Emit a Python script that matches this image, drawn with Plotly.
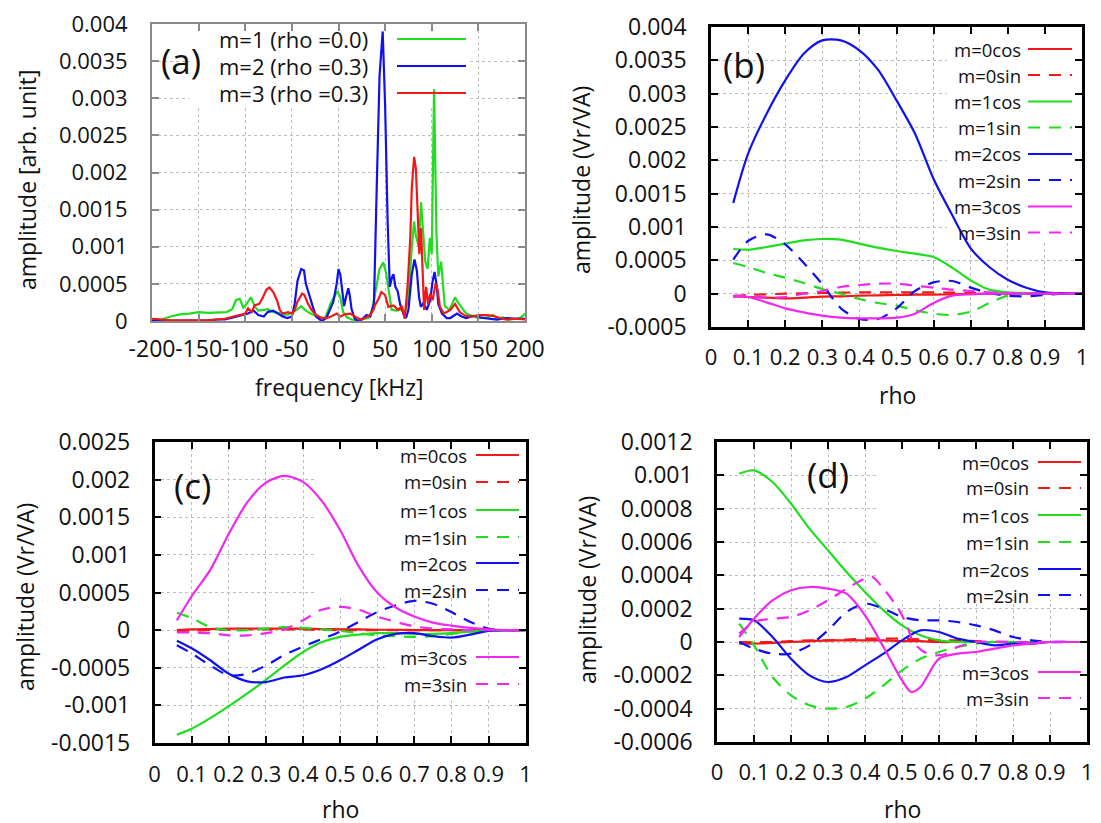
import plotly.graph_objects as go

# ---------------- data ----------------
# (a) frequency spectra
f_m1 = [-200, -190, -180, -170, -160, -150, -140, -130, -120, -114, -110, -106, -102, -98, -94, -90, -86,
        -80, -76, -70, -64, -60, -54, -48, -44, -40, -36, -30, -26, -20, -14, -8, -4, -1, 2, 5, 9, 14,
        20, 26, 32, 36, 40, 44, 48, 51, 54, 57, 62, 67, 71, 75, 78, 81, 83, 86, 88.5, 91, 93, 95.5, 98,
        100, 102.5, 105, 107, 110, 112, 114, 119, 125, 128, 132, 137, 145, 150, 160, 166, 170, 176, 182,
        190, 196, 200]
a_m1 = [0.00002, 0.00002, 0.00006, 0.00009, 0.0001, 0.00012, 0.00011, 0.00011, 0.00012, 0.00016, 0.00028,
        0.0003, 0.00018, 0.00024, 0.00032, 0.0002, 0.00014, 0.00015, 0.00016, 0.00012, 0.00011, 0.00008,
        0.00009, 0.00012, 0.00016, 0.0002, 0.00015, 0.0001, 0.00008, 0.00004, 0.00005, 0.00025, 0.00034,
        0.0004, 0.00032, 0.00012, 0.00005, 0.00002, 0.00001, 0.00002, 0.00004, 0.00015, 0.0004, 0.0007,
        0.00079, 0.00065, 0.0004, 0.00015, 0.00014, 0.00016, 0.0001, 0.0003, 0.0009, 0.00134, 0.00115,
        0.001, 0.0016, 0.0012, 0.0008, 0.0007, 0.00112, 0.0009, 0.00312, 0.0012, 0.0006, 0.0008, 0.00045,
        0.0002, 0.00015, 0.00032, 0.00025, 0.00018, 0.0001, 0.00006, 0.00004, 0.00005, 0.00008, 0.00003,
        0.00005, 0.00002, 0.00003, 0.00005, 0.0001]

f_m2 = [-200, -180, -160, -140, -130, -122, -115, -108, -102, -97, -91, -86, -80, -76, -70, -65, -60, -55,
        -50, -47, -44, -40, -37, -35, -31, -27, -24, -18, -13, -9, -5.5, -2, 0, 2, 4, 6, 8, 10.5, 12, 14,
        17, 20, 25, 30, 34, 38, 41, 44, 47.4, 50, 52.7, 55, 57.4, 59, 61, 63.5, 66, 69.5, 72.4, 75, 78.6,
        81.5, 84, 86.4, 88.3, 91, 94.7, 98.3, 101, 103, 105.5, 107, 111, 116, 120, 127, 132, 137, 145,
        155, 170, 180, 190, 200]
a_m2 = [0.0, 0.0, 0.0, 0.00001, 0.00002, 0.00002, 0.00004, 0.00006, 0.00008, 0.0001, 0.00014, 0.00008,
        0.00006, 0.00012, 0.00014, 0.0001, 0.00006, 0.00004, 0.00006, 0.00023, 0.00054, 0.0007, 0.00068,
        0.0005, 0.00032, 0.00017, 0.00006, 0.0, 0.00004, 0.00016, 0.00026, 0.0005, 0.0007, 0.00062, 0.0004,
        0.0002, 0.00032, 0.00044, 0.00035, 0.00016, 0.00004, 0.0, 0.00002, 0.00008, 0.00006, 0.00023,
        0.0018, 0.0033, 0.0039, 0.0029, 0.00134, 0.00046, 0.00059, 0.00063, 0.00046, 0.0004, 0.00023,
        0.0001, 0.00004, 0.00015, 0.00063, 0.00083, 0.00068, 0.00032, 0.00019, 0.00024, 0.00015, 0.00028,
        0.00054, 0.00066, 0.00046, 0.00023, 0.0001, 0.00004, 0.00004, 0.0001, 0.00006, 0.00004, 0.00007,
        0.00004, 0.00002, 0.00004, 0.00003, 0.00003]

f_m3 = [-200, -180, -160, -140, -122, -111, -104, -100, -97, -93, -90, -85, -81, -77.4, -74, -70, -66, -63,
        -60, -54, -50, -47, -44, -39, -36.5, -33, -29, -24, -18, -13, -8, -2, 2, 7, 12.5, 18, 23, 28.6,
        34, 37.5, 39, 43, 46, 50, 53.4, 59, 64, 68, 71, 74, 77, 78.6, 81.1, 83, 85, 86.7, 88.5, 90.4,
        91.8, 94, 96, 98.5, 101, 104, 106.5, 108.7, 113, 120, 125, 130, 136, 143, 150, 159, 166, 173,
        180, 190, 200]
a_m3 = [0.00003, 0.00001, 0.00001, 0.00001, 0.00003, 0.00006, 0.00008, 0.0001, 0.00017, 0.00012, 0.00021,
        0.00023, 0.00032, 0.00042, 0.00045, 0.00039, 0.00028, 0.00015, 0.0001, 0.00012, 0.0001, 0.00015,
        0.00026, 0.00037, 0.00035, 0.00024, 0.00015, 0.00008, 0.00004, 0.00004, 0.00006, 0.0001, 0.00006,
        0.00009, 0.0001, 0.00006, 0.00002, 0.00004, 0.00008, 0.00015, 0.00021, 0.0003, 0.00039, 0.00035,
        0.00019, 0.00021, 0.00015, 0.0002, 0.00003, 0.00046, 0.00112, 0.00179, 0.00221, 0.00205, 0.00139,
        0.0009, 0.00125, 0.00072, 0.00015, 0.00046, 0.00023, 0.00037, 0.00028, 0.0005, 0.00041, 0.00019,
        0.0001, 0.00015, 0.00023, 0.00012, 0.00007, 0.00006, 0.00008, 0.00008, 0.00007, 0.00004, 0.00002,
        0.00003, 0.00002]

# (b)-(d) radial profiles
rho = [0.06, 0.1, 0.15, 0.2, 0.25, 0.3, 0.35, 0.4, 0.45, 0.5, 0.55, 0.6, 0.65, 0.7, 0.75, 0.8, 0.85, 0.9, 0.95, 1.0]

b_m0cos = [-0.00004, -0.00005, -0.00006, -0.00007, -0.00006, -0.000045, -0.00004, -0.00003, -0.000025, -0.00002,
           -0.000015, -0.000015, -0.00001, -0.000005, 0, 0, 0, 0, 0, 0]
b_m0sin = [-0.00004, -0.00002, -0.00001, 0, 0.000005, 0.00001, 0.000015, 0.00002, 0.00002, 0.00002, 0.00002,
           0.00002, 0.000015, 0.00001, 0.000005, 0, 0, 0, 0, 0]
b_m1cos = [0.00067, 0.00066, 0.0007, 0.00075, 0.0008, 0.00082, 0.00081, 0.00075, 0.00069, 0.00064, 0.0006,
           0.00055, 0.00039, 0.0002, 0.00006, 0.00002, 0.00001, 0, 0, 0]
b_m1sin = [0.00046, 0.0004, 0.00031, 0.00024, 0.00016, 0.00007, 0.0, -0.00008, -0.00014, -0.00018, -0.00025,
           -0.0003, -0.00032, -0.00027, -0.00014, -0.00003, 0, 0, 0, 0]
b_m2cos = [0.00136, 0.0021, 0.0027, 0.0032, 0.0036, 0.0038, 0.0038, 0.00365, 0.00336, 0.0029, 0.0024,
           0.00172, 0.00118, 0.00068, 0.0004, 0.00021, 0.00009, 0.00002, 0.000005, 0]
b_m2sin = [0.00051, 0.00079, 0.00089, 0.00074, 0.00046, 0.00014, -0.00022, -0.00038, -0.00038, -0.00022,
           0.00004, 0.00017, 0.00019, 0.00009, 0.00001, -0.00003, -0.00004, -0.00002, 0, 0]
b_m3cos = [-0.00003, -0.00005, -0.00013, -0.00022, -0.00028, -0.00033, -0.00036, -0.00037, -0.00037, -0.00036,
           -0.0003, -0.00014, -0.00003, -0.00001, 0, 0, 0, 0, 0, 0]
b_m3sin = [-0.00004, -0.00004, -0.00006, -0.00005, 0, 0.00004, 0.0001, 0.00013, 0.00015, 0.00015, 0.00012,
           0.00009, 0.00006, 0.00004, 0.00002, 0.00001, 0, 0, 0, 0]

c_m0cos = [0, 0.00001, 0.000015, 0.00002, 0.00002, 0.00002, 0.00002, 0.00002, 0.000015, 0.00001, 0.00001,
           0.000005, 0.000005, 0, 0, 0, 0, 0, 0, 0]
c_m0sin = [-0.00001, -0.000005, 0, 0.000005, 0.00001, 0.00001, 0.00001, 0.00001, 0.000005, 0, 0, 0, 0, 0, 0,
           0, 0, 0, 0, 0]
c_m1cos = [-0.00139, -0.00131, -0.00117, -0.00101, -0.00084, -0.00066, -0.00047, -0.00029, -0.00016, -0.00009,
           -0.00006, -0.00004, -0.00004, -0.00005, -0.00005, -0.00004, -0.00002, -0.00001, 0, 0]
c_m1sin = [0.00023, 0.00016, 0.00004, 0, 0, 0.00002, 0.00004, 0.00003, 0.00001, -0.00001, -0.00004, -0.00007,
           -0.00008, -0.00009, -0.00008, -0.00005, -0.00002, 0, 0, 0]
c_m2cos = [-0.00014, -0.00024, -0.0004, -0.00058, -0.00068, -0.00069, -0.00063, -0.0006, -0.00052, -0.0004,
           -0.00026, -0.00012, -0.00005, -0.00004, -0.00008, -0.0001, -0.00006, -0.00001, 0, 0]
c_m2sin = [-0.0002, -0.00031, -0.00047, -0.0006, -0.00058, -0.00047, -0.00033, -0.00022, -0.00012, -0.00002,
           0.00011, 0.00024, 0.00033, 0.00039, 0.00035, 0.00024, 0.00011, 0.00002, 0, 0]
c_m3cos = [0.00013, 0.00045, 0.0008, 0.00128, 0.0017, 0.00196, 0.00205, 0.00197, 0.00172, 0.00133, 0.00085,
           0.0005, 0.0003, 0.00018, 0.0001, 0.00006, 0.00003, 0.00001, 0, 0]
c_m3sin = [-0.00003, -0.00003, -0.00004, -0.00007, -0.00007, -0.00004, 0.00001, 0.00013, 0.00027, 0.00031,
           0.00027, 0.00018, 0.00011, 0.00005, 0.00002, 0.00001, 0, 0, 0, 0]

d_m0cos = [-0.00001, -0.00001, -0.000005, 0, 0.000005, 0.00001, 0.00001, 0.00001, 0.00001, 0.000005, 0.000005,
           0, 0, 0, 0, 0, 0, 0, 0, 0]
d_m0sin = [0, 0, 0, 0.000005, 0.00001, 0.00001, 0.000015, 0.00002, 0.00002, 0.00002, 0.000015, 0.00001,
           0.00001, 0.000005, 0, 0, 0, 0, 0, 0]
d_m1cos = [0.00101, 0.00103, 0.00096, 0.00083, 0.00068, 0.00055, 0.00042, 0.0003, 0.00019, 0.0001, 0.00004,
           0.00001, 0, 0, 0, 0, 0, 0, 0, 0]
d_m1sin = [0.00011, -0.00002, -0.00021, -0.00032, -0.00038, -0.0004, -0.00039, -0.00034, -0.00026, -0.00017,
           -0.0001, -0.00006, -0.00003, -0.00001, 0, 0, 0, 0, 0, 0]
d_m2cos = [0.00014, 0.00013, 0.00003, -0.0001, -0.0002, -0.00024, -0.00021, -0.00014, -0.00007, 0.00001,
           0.00007, 0.00006, 0.00002, 0, -0.00002, -0.00001, -0.00001, 0, 0, 0]
d_m2sin = [0, -0.00004, -0.00007, -0.00007, -0.00002, 0.00007, 0.00018, 0.00023, 0.0002, 0.00015, 0.00013,
           0.00013, 0.00012, 0.0001, 0.00007, 0.00003, 0.00001, 0, 0, 0]
rho_d_m3cos = [0.06, 0.1, 0.15, 0.2, 0.25, 0.3, 0.35, 0.4, 0.45, 0.5, 0.525, 0.55, 0.6, 0.65, 0.7, 0.75, 0.8,
               0.85, 0.9, 0.95, 1.0]
d_m3cos = [0.00003, 0.00014, 0.00025, 0.00031, 0.00033, 0.00032, 0.00029, 0.00016, -0.00003, -0.00023, -0.0003,
           -0.00027, -0.0001, -0.00007, -0.00006, -0.00004, -0.00002, -0.00001, 0, 0, 0]
rho_d_m3sin = [0.06, 0.1, 0.15, 0.2, 0.25, 0.3, 0.35, 0.4, 0.42, 0.45, 0.49, 0.515, 0.53, 0.56, 0.59, 0.62,
               0.65, 0.7, 0.8, 0.9, 1.0]
d_m3sin = [0.00005, 0.00012, 0.00014, 0.00015, 0.00019, 0.00025, 0.00032, 0.00038, 0.00039, 0.00032, 0.0002,
           0.00009, 0.0, -0.00006, -0.00008, -0.00007, -0.00003, 0, 0, 0, 0]

# tick labels
freq_ticks = [-200, -150, -100, -50, 0, 50, 100, 150, 200]
freq_labels = ["-200", "-150", "-100", "-50", "0", "50", "100", "150", "200"]
rho_ticks = [0, 0.1, 0.2, 0.3, 0.4, 0.5, 0.6, 0.7, 0.8, 0.9, 1.0]
rho_labels = ["0", "0.1", "0.2", "0.3", "0.4", "0.5", "0.6", "0.7", "0.8", "0.9", "1"]
ya_ticks = [0, 0.0005, 0.001, 0.0015, 0.002, 0.0025, 0.003, 0.0035, 0.004]
ya_labels = ["0", "0.0005", "0.001", "0.0015", "0.002", "0.0025", "0.003", "0.0035", "0.004"]
yb_ticks = [-0.0005] + ya_ticks
yb_labels = ["-0.0005"] + ya_labels
yc_ticks = [-0.0015, -0.001, -0.0005, 0, 0.0005, 0.001, 0.0015, 0.002, 0.0025]
yc_labels = ["-0.0015", "-0.001", "-0.0005", "0", "0.0005", "0.001", "0.0015", "0.002", "0.0025"]
yd_ticks = [-0.0006, -0.0004, -0.0002, 0, 0.0002, 0.0004, 0.0006, 0.0008, 0.001, 0.0012]
yd_labels = ["-0.0006", "-0.0004", "-0.0002", "0", "0.0002", "0.0004", "0.0006", "0.0008", "0.001", "0.0012"]

mode_names = ["m=0cos", "m=0sin", "m=1cos", "m=1sin", "m=2cos", "m=2sin", "m=3cos", "m=3sin"]
spec_names = ["m=1 (rho =0.0)", "m=2 (rho =0.3)", "m=3 (rho =0.3)"]

# ---------------- styling ----------------
W, H = 1101, 823
OFF = 8  # the page puts the figure 8px in from the top-left corner
RED, GREEN, BLUE, MAG = "#f01818", "#20dd20", "#1010f0", "#f028f0"
DASH = "12px,9px"
FONT = "Open Sans"
TXT = "#111111"


def fx(p):
    return (p - OFF) / W


def fy(p):
    return 1 - (p - OFF) / H


# panel boxes in pixels: x0, x1, ytop, ybottom
boxes = {
    1: (152, 525, 24, 321),
    2: (711, 1082, 27, 327),
    3: (154.6, 525.6, 442, 743),
    4: (717, 1087, 442, 742),
}

fig = go.Figure()


def add(k, x, y, color, dash="solid", spline=True):
    fig.add_trace(go.Scatter(
        x=x, y=y, mode="lines", xaxis="x" if k == 1 else f"x{k}", yaxis="y" if k == 1 else f"y{k}",
        line=dict(color=color, width=2.2, dash=dash, shape="spline" if spline else "linear",
                  smoothing=0.8),
        showlegend=False, hoverinfo="skip"))


add(1, f_m1, a_m1, GREEN, spline=False)
add(1, f_m2, a_m2, BLUE, spline=False)
add(1, f_m3, a_m3, RED, spline=False)

panel_series = {
    2: [(rho, b_m0cos), (rho, b_m0sin), (rho, b_m1cos), (rho, b_m1sin),
        (rho, b_m2cos), (rho, b_m2sin), (rho, b_m3cos), (rho, b_m3sin)],
    3: [(rho, c_m0cos), (rho, c_m0sin), (rho, c_m1cos), (rho, c_m1sin),
        (rho, c_m2cos), (rho, c_m2sin), (rho, c_m3cos), (rho, c_m3sin)],
    4: [(rho, d_m0cos), (rho, d_m0sin), (rho, d_m1cos), (rho, d_m1sin),
        (rho, d_m2cos), (rho, d_m2sin), (rho_d_m3cos, d_m3cos), (rho_d_m3sin, d_m3sin)],
}
mode_colors = [RED, RED, GREEN, GREEN, BLUE, BLUE, MAG, MAG]
mode_dash = ["solid", DASH] * 4
for k, series in panel_series.items():
    for (x, y), c, d in zip(series, mode_colors, mode_dash):
        add(k, x, y, c, d)


def axis(k, line_color, line_w, rng, tv, tt, fsize, standoff, is_x):
    x0, x1, yt, yb = boxes[k]
    dom = [fx(x0), fx(x1)] if is_x else [fy(yb), fy(yt)]
    return dict(domain=dom, anchor=("y" if k == 1 else f"y{k}") if is_x else ("x" if k == 1 else f"x{k}"),
                range=rng, tickmode="array", tickvals=tv, ticktext=tt, tickangle=0, automargin=False,
                showline=True, mirror="ticks", linecolor=line_color, linewidth=line_w,
                ticks="inside", ticklen=7, tickwidth=1.5, tickcolor=line_color,
                showgrid=True, gridcolor="#bdbdbd", griddash="dot", gridwidth=1, zeroline=False,
                tickfont=dict(family=FONT, size=fsize, color=TXT), ticklabelstandoff=standoff)


lay = dict(width=W, height=H, autosize=False,
           margin=dict(l=0, r=0, t=0, b=0, pad=0, autoexpand=False), paper_bgcolor="white",
           plot_bgcolor="white", showlegend=False)
lay["xaxis"] = axis(1, "#8a8a8a", 2, [-200, 200], freq_ticks, freq_labels, 23, 6, True)
lay["yaxis"] = axis(1, "#8a8a8a", 2, [0, 0.004], ya_ticks, ya_labels, 22, 18, False)
lay["xaxis2"] = axis(2, "black", 2.5, [0, 1], rho_ticks, rho_labels, 22, 9, True)
lay["yaxis2"] = axis(2, "black", 2.5, [-0.0005, 0.004], yb_ticks, yb_labels, 23, 17, False)
lay["xaxis3"] = axis(3, "black", 2.5, [0, 1], rho_ticks, rho_labels, 22, 10, True)
lay["yaxis3"] = axis(3, "black", 2.5, [-0.0015, 0.0025], yc_ticks, yc_labels, 23, 17, False)
lay["xaxis4"] = axis(4, "black", 2.5, [0, 1], rho_ticks, rho_labels, 22, 9, True)
lay["yaxis4"] = axis(4, "black", 2.5, [-0.0006, 0.0012], yd_ticks, yd_labels, 23, 17, False)
fig.update_layout(**lay)

shapes = []
ann = []

# opaque key areas hide the grid (gnuplot key box)
key_boxes = [
    ("x", "y", -160, 140, 0.0029, 0.004),
    ("x2", "y2", 0.635, 1, 0.00077, 0.004),
    ("x3", "y3", 0.43, 1, 0.00045, 0.0025),
    ("x3", "y3", 0.62, 1, -0.0009, -0.0004),
    ("x4", "y4", 0.43, 1, 0.00025, 0.0012),
    ("x4", "y4", 0.68, 1, -0.00042, -0.00012),
]
for xr, yr, a0, a1, b0, b1 in key_boxes:
    shapes.append(dict(type="rect", xref=xr, yref=yr, x0=a0, x1=a1, y0=b0, y1=b1,
                       fillcolor="white", line=dict(width=0), layer="between"))


def key(text_right, s0, s1, ys, names, colors, dashes, size):
    for yy, n, c, d in zip(ys, names, colors, dashes):
        ann.append(dict(text=n, x=fx(text_right), y=fy(yy), xref="paper", yref="paper",
                        xanchor="right", yanchor="middle", showarrow=False,
                        font=dict(family=FONT, size=size, color=TXT)))
        shapes.append(dict(type="line", xref="paper", yref="paper", x0=fx(s0), x1=fx(s1),
                           y0=fy(yy), y1=fy(yy), line=dict(color=c, width=2.2, dash=d)))


key(370, 397, 466, [39, 66, 93], spec_names, [GREEN, BLUE, RED], ["solid"] * 3, 22)
key(1023, 1028, 1072, [49, 75, 101.5, 127.5, 154, 180, 206.5, 232.5], mode_names, mode_colors, mode_dash, 18.5)
key(469, 476, 519, [455, 482, 510, 537, 563, 590, 657, 684], mode_names, mode_colors, mode_dash, 18.5)
key(1031, 1038, 1081, [462, 488, 515, 542, 569, 595, 672, 698], mode_names, mode_colors, mode_dash, 18.5)


def label(text, x, y, size, angle=0):
    ann.append(dict(text=text, x=fx(x), y=fy(y), xref="paper", yref="paper", xanchor="center",
                    yanchor="middle", showarrow=False, textangle=angle,
                    font=dict(family=FONT, size=size, color=TXT)))


label("(a)", 181, 61, 35)
label("(b)", 744, 64, 35)
label("(c)", 192, 485, 35)
label("(d)", 828, 475, 35)
label("amplitude [arb. unit]", 27, 180, 23, -90)
label("frequency [kHz]", 339, 387, 23)
label("amplitude (Vr/VA)", 581, 180, 23, -90)
label("rho", 897, 395, 23)
label("amplitude (Vr/VA)", 25, 597, 23, -90)
label("rho", 340, 809, 23)
label("amplitude (Vr/VA)", 587, 590, 23, -90)
label("rho", 902, 809, 23)

fig.update_layout(shapes=shapes, annotations=ann)
fig.write_html("out.html")
